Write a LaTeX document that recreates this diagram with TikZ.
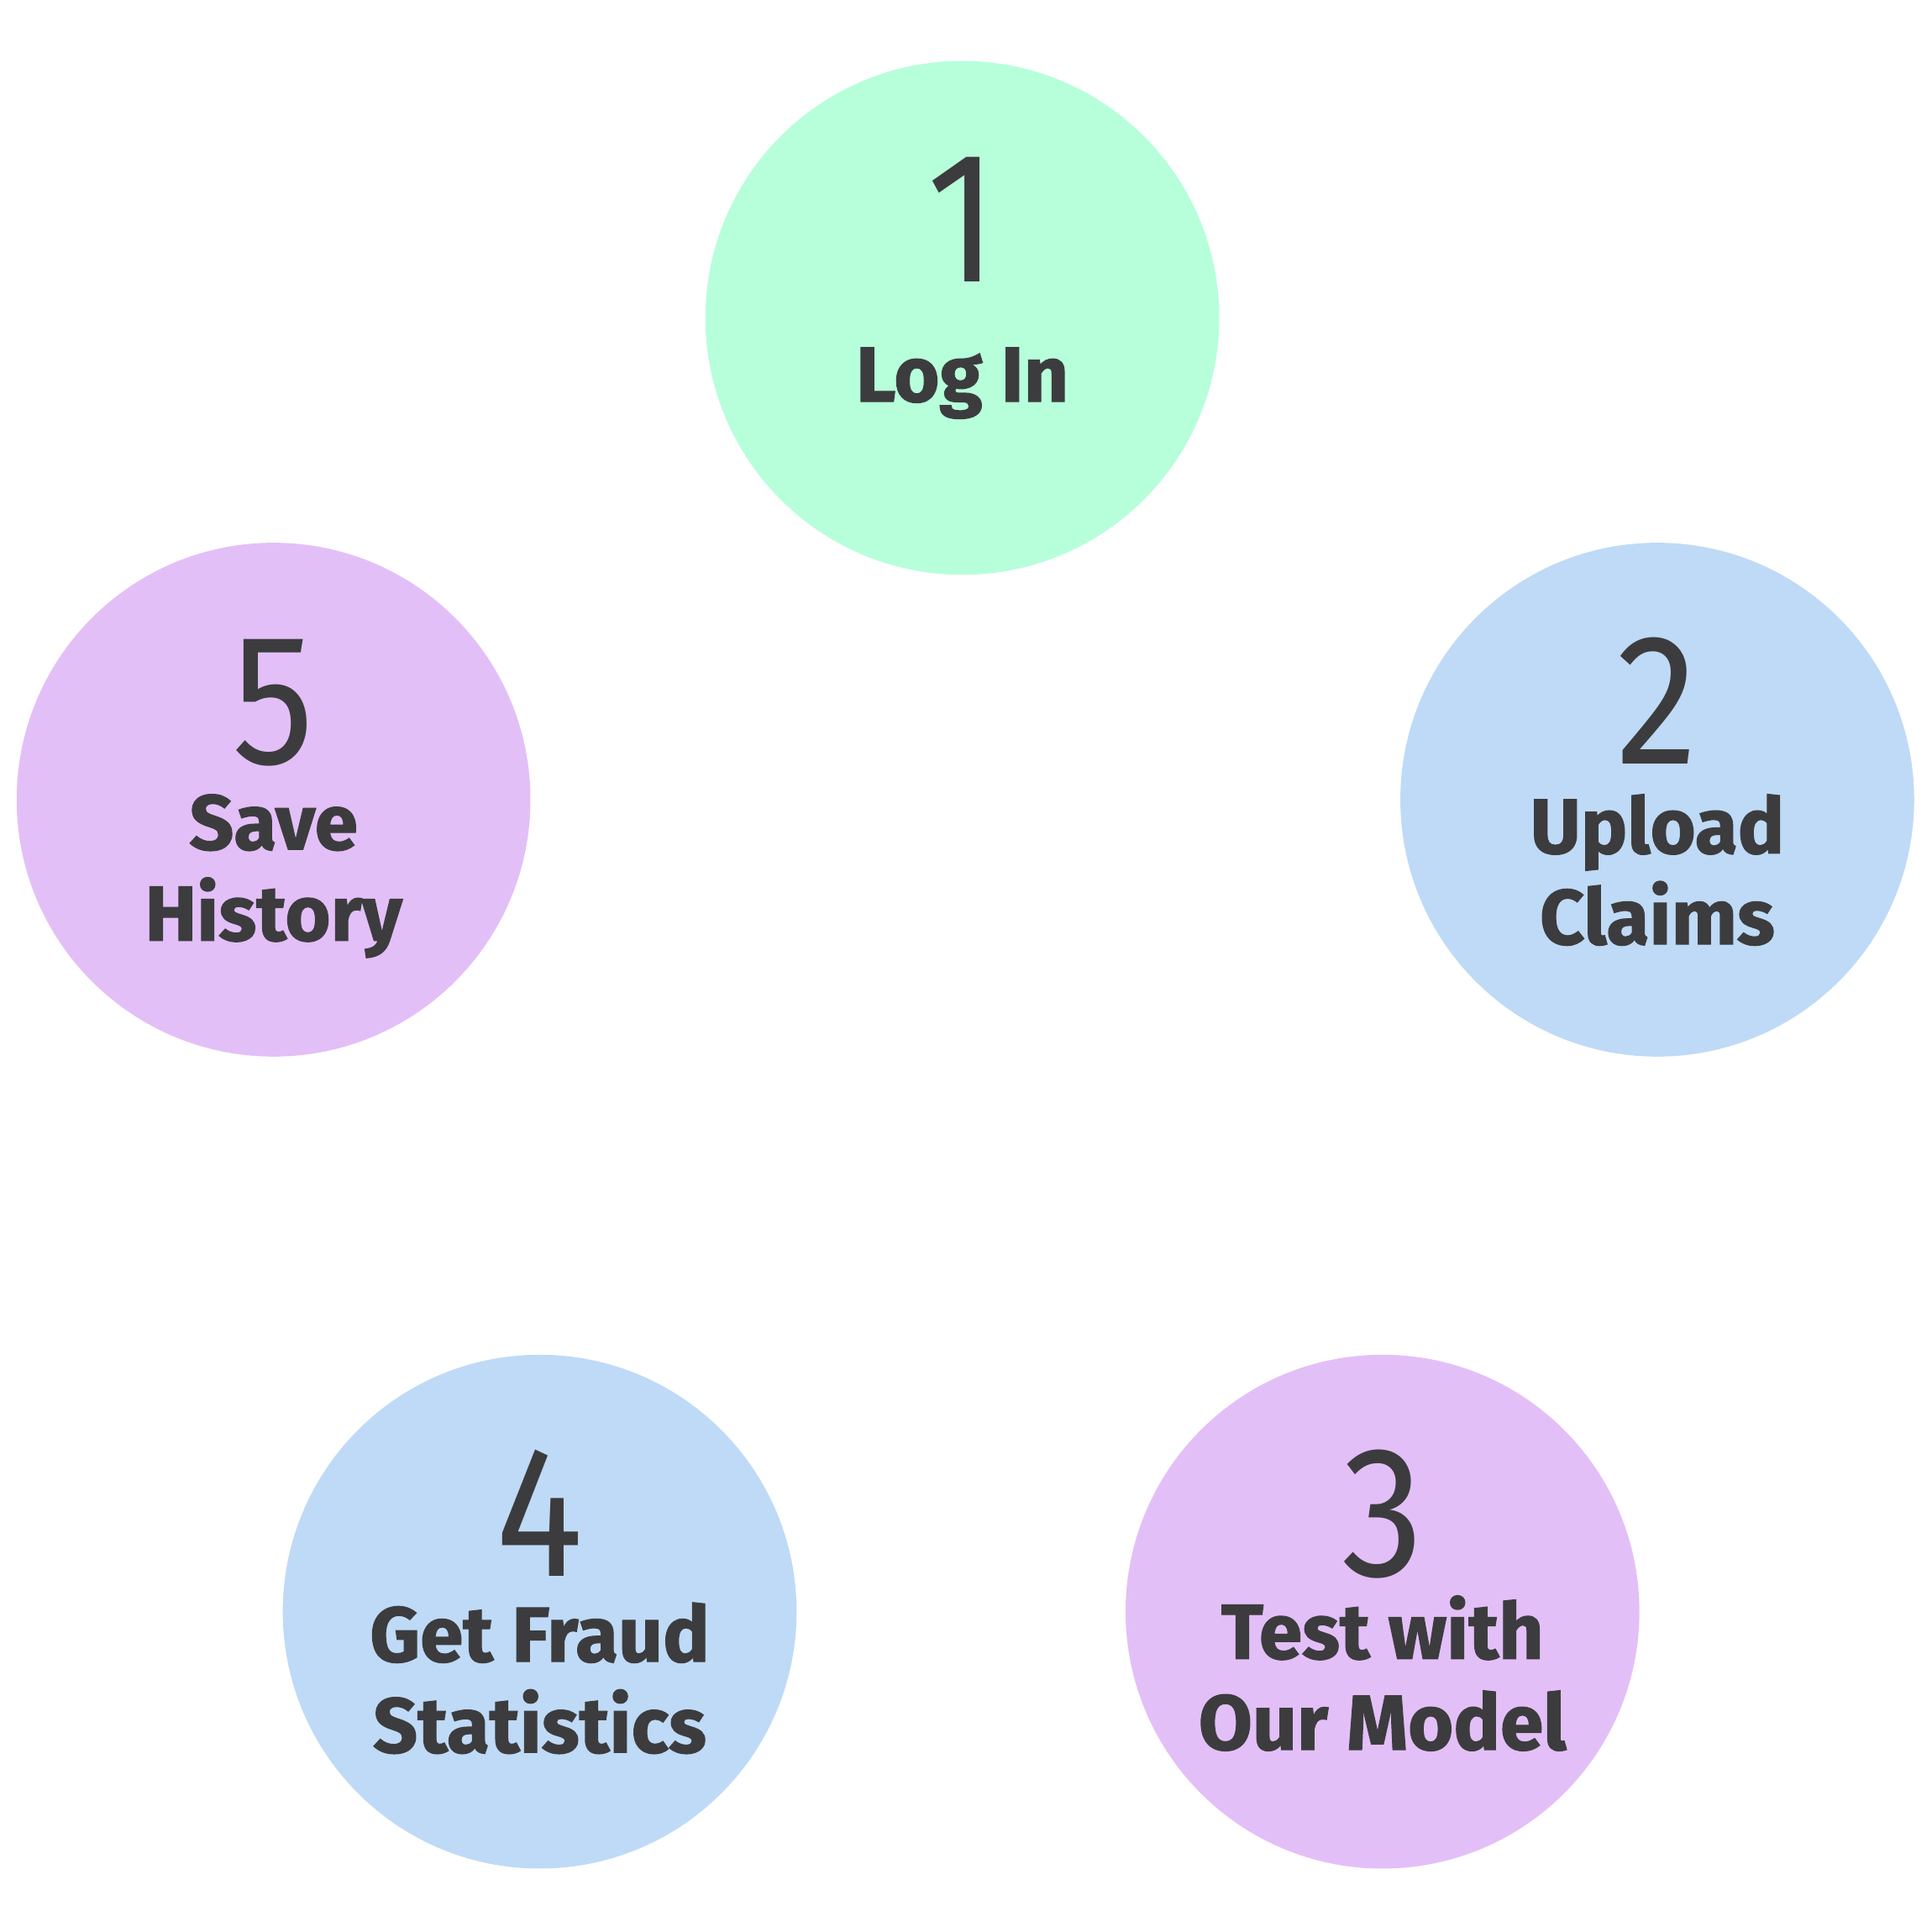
\documentclass[tikz,border=0pt]{standalone}
\usepackage{fontspec}
\setmainfont{Fira Sans}
\newfontfamily\numfont{Fira Sans}[FakeStretch=0.88]
\newfontfamily\lblfont{Fira Sans}[BoldFeatures={FakeBold=1.2}]
\definecolor{stepgreen}{HTML}{B6FFDA}
\definecolor{stepblue}{HTML}{BFDAF6}
\definecolor{steppurple}{HTML}{E3BFF7}
\definecolor{steptext}{HTML}{3C3C3E}

\begin{document}
\begin{tikzpicture}[
    stepcircle/.style={circle, minimum size=4.17cm, inner sep=0pt},
    stepnum/.style={text=steptext, anchor=base, inner sep=0pt, font=\numfont\fontsize{43}{43}\selectfont},
    steplabel/.style={text=steptext, align=center, inner sep=0pt, font=\lblfont\bfseries\fontsize{18}{21}\selectfont}]
    \useasboundingbox (0,0) rectangle (15.68,-15.68);
    % circles
    \foreach \name/\x/\y/\col in {c1/7.81/-2.58/stepgreen, c2/13.45/-6.49/stepblue, c3/11.22/-13.08/steppurple, c4/4.38/-13.08/stepblue, c5/2.22/-6.49/steppurple}
    {\node[stepcircle, fill=\col](\name) at (\x,\y) {};}
    % numbers
    \foreach \i in {1, 2, ..., 5}
    {\node[stepnum](n\i) at ([yshift=0.29cm]c\i.center) {\i};}
    % labels
    \node[steplabel](l1) at ([yshift=-0.53cm]c1.center) {Log In};
    \node[steplabel](l2) at ([yshift=-0.57cm]c2.center) {Upload\\Claims};
    \node[steplabel](l3) at ([yshift=-0.50cm]c3.center) {Test with\\Our Model};
    \node[steplabel](l4) at ([yshift=-0.54cm]c4.center) {Get Fraud\\Statistics};
    \node[steplabel](l5) at ([yshift=-0.62cm]c5.center) {Save\\History};
\end{tikzpicture}
\end{document}
